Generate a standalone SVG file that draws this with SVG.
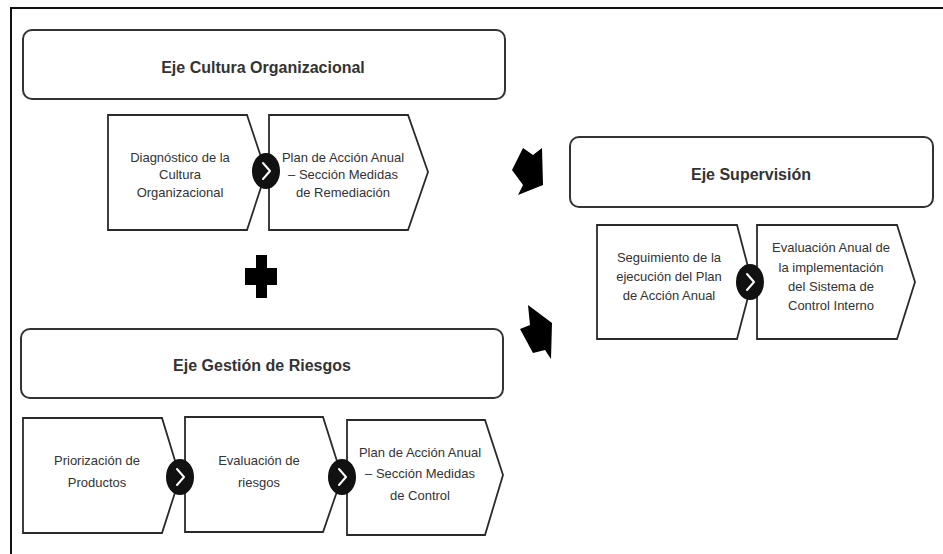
<svg xmlns="http://www.w3.org/2000/svg" width="943" height="554" viewBox="0 0 943 554">
<defs>
<style>
.frame{stroke:#111;stroke-width:2;fill:none}
.axis{fill:#fff;stroke:#333;stroke-width:2}
.chev{fill:#fff;stroke:#2a2a2a;stroke-width:1.8;stroke-linejoin:miter}
.title{font-family:"Liberation Sans",Arial,sans-serif;font-weight:bold;font-size:16px;fill:#333;text-anchor:middle}
.lbl{font-family:"Liberation Sans",Arial,sans-serif;font-size:13px;fill:#333;text-anchor:middle}
.dot{fill:#111}
.gt{fill:none;stroke:#fff;stroke-width:2;stroke-linecap:round;stroke-linejoin:round}
.blk{fill:#000}
</style>
<g id="step">
<ellipse class="dot" cx="0" cy="0" rx="14" ry="18"/>
<polyline class="gt" points="-3,-8 4,0 -3,8"/>
</g>
</defs>
<rect width="943" height="554" fill="#fff"/>
<path class="frame" d="M11,554 V8 H943"/>

<g id="eje-cultura">
<rect class="axis" x="23" y="30" width="482" height="69" rx="9"/>
<text class="title" x="263" y="73">Eje Cultura Organizacional</text>
</g>
<g id="diagnostico">
<polygon class="chev" points="108,115 247,115 266,172 247,230 108,230"/>
<text class="lbl" x="180"><tspan x="180" y="162">Diagnóstico de la</tspan><tspan x="180" y="179">Cultura</tspan><tspan x="180" y="197">Organizacional</tspan></text>
</g>
<g id="plan-remediacion">
<polygon class="chev" points="269,115 408,115 428,172 408,230 269,230"/>
<text class="lbl"><tspan x="343" y="162">Plan de Acción Anual</tspan><tspan x="343" y="179">– Sección Medidas</tspan><tspan x="343" y="197">de Remediación</tspan></text>
</g>

<g id="plus">
<rect class="blk" x="256" y="255" width="11" height="43"/>
<rect class="blk" x="245" y="268" width="32" height="17"/>
</g>

<g id="eje-gestion">
<rect class="axis" x="21" y="329" width="482" height="69" rx="9"/>
<text class="title" x="262" y="371">Eje Gestión de Riesgos</text>
</g>
<g id="priorizacion">
<polygon class="chev" points="23,418 162,418 180,477 162,533 23,533"/>
<text class="lbl"><tspan x="97" y="465">Priorización de</tspan><tspan x="97" y="487">Productos</tspan></text>
</g>
<g id="evaluacion-riesgos">
<polygon class="chev" points="185,417 323,417 342,477 323,532 185,532"/>
<text class="lbl"><tspan x="259" y="465">Evaluación de</tspan><tspan x="259" y="487">riesgos</tspan></text>
</g>
<g id="plan-control">
<polygon class="chev" points="347,420 485,420 503,475 485,535 347,535"/>
<text class="lbl"><tspan x="420" y="457">Plan de Acción Anual</tspan><tspan x="420" y="478">– Sección Medidas</tspan><tspan x="420" y="500">de Control</tspan></text>
</g>

<g id="eje-supervision">
<rect class="axis" x="570" y="137" width="363" height="70" rx="9"/>
<text class="title" x="751" y="180">Eje Supervisión</text>
</g>
<g id="seguimiento">
<polygon class="chev" points="597,225 737,225 752,282 737,339 597,339"/>
<text class="lbl"><tspan x="669" y="262">Seguimiento  de la</tspan><tspan x="669" y="281">ejecución del Plan</tspan><tspan x="669" y="300">de Acción Anual</tspan></text>
</g>
<g id="evaluacion-anual">
<polygon class="chev" points="757,225 897,225 915,282 897,339 757,339"/>
<text class="lbl"><tspan x="831" y="252">Evaluación Anual de</tspan><tspan x="831" y="272">la implementación</tspan><tspan x="831" y="291">del Sistema de</tspan><tspan x="831" y="310">Control Interno</tspan></text>
</g>

<g id="connectors">
<use href="#step" x="266" y="171"/>
<use href="#step" x="180" y="477"/>
<use href="#step" x="342" y="477"/>
<use href="#step" x="750" y="282"/>
<polygon class="blk" points="512,170 523,148 533,155 542,148 543,185 518,195 523,185"/>
<polygon class="blk" points="528,305 552,323 551,359 545,350 533,353 520,329 530,325"/>
</g>
</svg>
